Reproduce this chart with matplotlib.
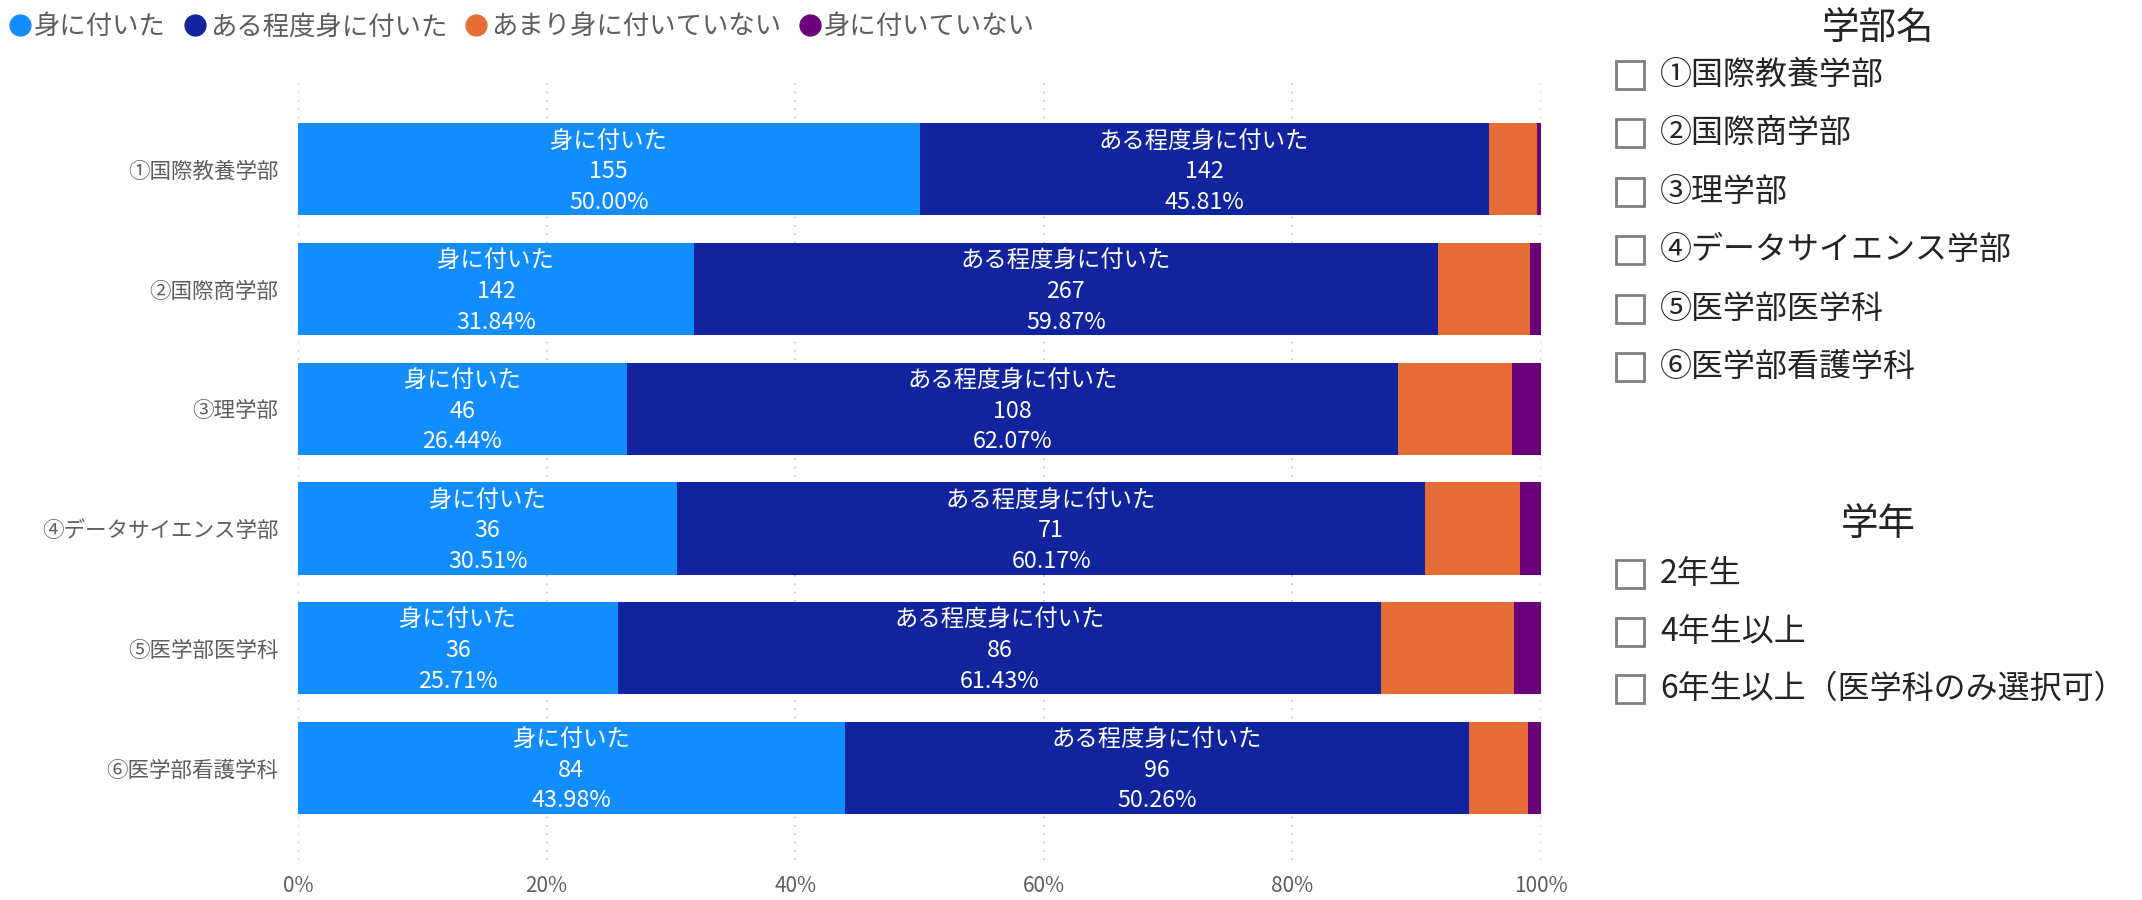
import matplotlib
matplotlib.use("Agg")
import matplotlib.pyplot as plt
from matplotlib.patches import Rectangle
from matplotlib.lines import Line2D
import numpy as np

plt.rcParams['font.family'] = ['Noto Sans CJK JP', 'DejaVu Sans']

# data
faculties = ['①国際教養学部', '②国際商学部', '③理学部',
             '④データサイエンス学部', '⑤医学部医学科', '⑥医学部看護学科']
levels = ['身に付いた', 'ある程度身に付いた', 'あまり身に付いていない', '身に付いていない']
counts_good = [155, 142, 46, 36, 36, 84]
counts_some = [142, 267, 108, 71, 86, 96]
counts_little = [12, 33, 16, 9, 15, 9]
counts_none = [1, 4, 4, 2, 3, 2]
colors = ['#118DFF', '#12239E', '#E66C37', '#6B007B']

slicer1_title = '学部名'
slicer2_title = '学年'
slicer2_items = ['2年生', '4年生以上', '6年生以上（医学科のみ選択可）']
xticks = [0, 20, 40, 60, 80, 100]

W, H = 2142, 900
fig = plt.figure(figsize=(W / 100, H / 100), dpi=100)
ax = fig.add_axes([298 / W, 1 - 860 / H, (1541 - 298) / W, (860 - 82) / H])

series = np.array([counts_good, counts_some, counts_little, counts_none], dtype=float)
totals = series.sum(axis=0)
pct = series / totals * 100
y = np.arange(len(faculties))

left = np.zeros(len(faculties))
for i, lvl in enumerate(levels):
    ax.barh(y, pct[i], left=left, height=0.77, color=colors[i], label=lvl, zorder=2)
    if i < 2:
        for j in range(len(faculties)):
            cx = left[j] + pct[i][j] / 2
            ax.text(cx, y[j] + 0.02, f'{lvl}\n{int(series[i][j])}\n{pct[i][j]:.2f}%',
                    ha='center', va='center', color='white', fontsize=16.8,
                    linespacing=1.42, zorder=3)
    left += pct[i]

ax.set_xlim(0, 100)
ax.set_ylim(5.77, -0.73)
ax.set_yticks(y)
ax.set_yticklabels(faculties, fontsize=15.5, color='#605E5C')
ax.set_xticks(xticks)
ax.set_xticklabels([f'{t}%' for t in xticks], fontsize=15, color='#605E5C')
ax.tick_params(length=0)
ax.tick_params(axis='y', pad=14)
ax.tick_params(axis='x', pad=11)
for s in ax.spines.values():
    s.set_visible(False)
ax.grid(axis='x', color='#C8C6C4', linestyle=(0, (1, 4)), linewidth=1.2, zorder=0)

handles = [Line2D([], [], marker='o', linestyle='', markersize=15,
                  markerfacecolor=c, markeredgecolor=c) for c in colors]
fig.legend(handles, levels, loc='center left', bbox_to_anchor=(0.0, 1 - 27 / H), ncol=4,
           frameon=False, fontsize=19, labelcolor='#605E5C', handletextpad=0.0,
           columnspacing=0.55, handlelength=1.1, borderaxespad=0, borderpad=0.2)

# slicer panel
ov = fig.add_axes([0, 0, 1, 1])
ov.set_xlim(0, W)
ov.set_ylim(H, 0)
ov.axis('off')


def slicer(title, items, title_y, item_y0, step):
    ov.text(1878, title_y, title, ha='center', va='center', fontsize=27, color='#252423')
    for k, it in enumerate(items):
        yy = item_y0 + k * step
        ov.add_patch(Rectangle((1616, yy - 14), 28, 28, fill=False,
                               edgecolor='#7F7F7F', linewidth=2))
        ov.text(1660, yy, it, ha='left', va='center', fontsize=23, color='#252423')


slicer(slicer1_title, faculties, 29, 75, 58.4)
slicer(slicer2_title, slicer2_items, 524, 574, 57.5)

fig.savefig('out.png', dpi=100, facecolor='white')
